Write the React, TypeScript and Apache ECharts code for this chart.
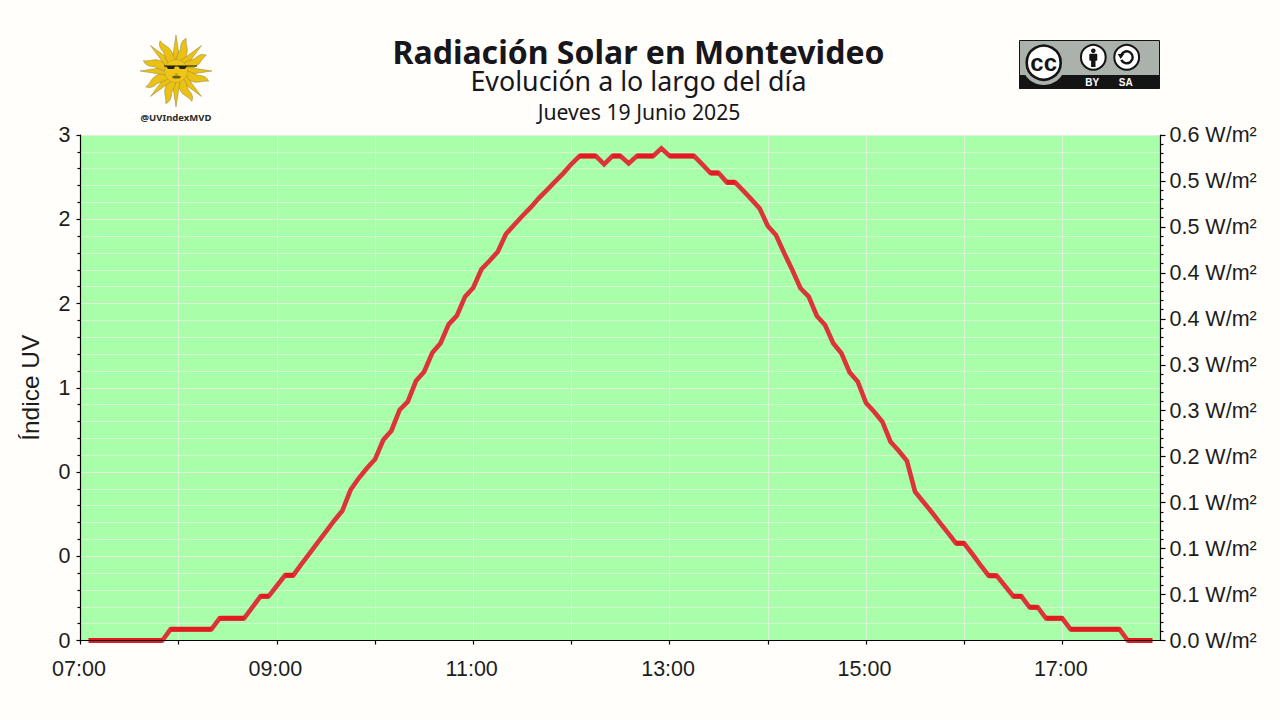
import React, { useEffect, useRef } from "react";
import * as echarts from "echarts";

const titleText = "Radiación Solar en Montevideo";
const subtitleText = "Evolución a lo largo del día";
const dateText = "Jueves 19 Junio 2025";
const handleText = "@UVIndexMVD";
const leftAxisName = "Índice UV";

const leftTickLabels = ["0", "0", "0", "1", "2", "2", "3"];
const rightTickLabels = ["0.0", "0.1", "0.1", "0.1", "0.2", "0.3", "0.3", "0.4", "0.4", "0.5", "0.5", "0.6"];
const hourLabels = ["07:00", "", "09:00", "", "11:00", "", "13:00", "", "15:00", "", "17:00", ""];

const times = [
  "07:05","07:10","07:15","07:20","07:25","07:30","07:35","07:40","07:45","07:50","07:55",
  "08:00","08:05","08:10","08:15","08:20","08:25","08:30","08:35","08:40","08:45","08:50","08:55",
  "09:00","09:05","09:10","09:15","09:20","09:25","09:30","09:35","09:40","09:45","09:50","09:55",
  "10:00","10:05","10:10","10:15","10:20","10:25","10:30","10:35","10:40","10:45","10:50","10:55",
  "11:00","11:05","11:10","11:15","11:20","11:25","11:30","11:35","11:40","11:45","11:50","11:55",
  "12:00","12:05","12:10","12:15","12:20","12:25","12:30","12:35","12:40","12:45","12:50","12:55",
  "13:00","13:05","13:10","13:15","13:20","13:25","13:30","13:35","13:40","13:45","13:50","13:55",
  "14:00","14:05","14:10","14:15","14:20","14:25","14:30","14:35","14:40","14:45","14:50","14:55",
  "15:00","15:05","15:10","15:15","15:20","15:25","15:30","15:35","15:40","15:45","15:50","15:55",
  "16:00","16:05","16:10","16:15","16:20","16:25","16:30","16:35","16:40","16:45","16:50","16:55",
  "17:00","17:05","17:10","17:15","17:20","17:25","17:30","17:35","17:40","17:45","17:50","17:55",
];

const irradiance = [
  0,0,0,0,0,0,0,0,0,0,.0122,
  .0122,.0122,.0122,.0122,.0122,.0242,.0242,.0242,.0242,.0361,.0481,.0481,
  .0596,.0709,.0709,.0832,.0949,.1068,.1184,.1303,.1412,.1637,.1765,.1874,
  .1971,.2181,.2283,.2508,.2598,.2823,.2925,.3131,.3234,.344,.3534,.3741,
  .3838,.4039,.4132,.423,.4423,.4521,.4619,.4709,.4811,.4901,.4992,.5083,
  .5184,.5271,.5271,.5271,.5181,.5271,.5271,.519,.5271,.5271,.5271,.5355,
  .5271,.5271,.5271,.5271,.5181,.5086,.5086,.4985,.4985,.4894,.48,.4702,
  .451,.4412,.4216,.4031,.3832,.3741,.3531,.3433,.3234,.3125,.2918,.2816,
  .2587,.2489,.2381,.2163,.2065,.1956,.1619,.151,.1401,.1286,.1173,.1058,
  .1058,.0941,.0821,.0705,.0705,.0593,.0481,.0481,.0361,.0361,.0242,.0242,
  .0242,.0122,.0122,.0122,.0122,.0122,.0122,.0122,0,0,0,0,
];

const toMinutes = (t: string) => {
  const [h, m] = t.split(":").map(Number);
  return (h - 7) * 60 + m;
};

const linePoints = times.map((t, i) => [toMinutes(t), irradiance[i]]);

// Level stretches look more saturated than the slopes in the reference.
const flatStretches: any[] = [];
linePoints.forEach((p, i) => {
  const next = linePoints[i + 1];
  if (next && next[1] === p[1]) flatStretches.push(p, next, [p[0], "-"]);
});

echarts.graphic.registerShape("sunRay", echarts.graphic.extendPath(
  "M-4,-10 L0,-36 L4,-10 Z", {}) as any);
echarts.graphic.registerShape("sunWave", echarts.graphic.extendPath(
  "M-4,-10 C-6,-17 -3,-20 -5,-24 C-6,-28 -6,-31 -3,-34 C-2,-29 2,-26 3,-22 C4,-18 3.5,-14 4,-10 Z", {}) as any);

const SUN_X = 176;
const SUN_Y = 71;
const rayStyle = { fill: "#ecc115", stroke: "#8f8540", lineWidth: 0.5 };

function sunGraphic() {
  const rays: any[] = [];
  for (let i = 0; i < 16; i++) {
    rays.push({
      type: i % 2 === 0 ? "sunRay" : "sunWave",
      x: 0, y: 0,
      rotation: (-i * Math.PI) / 8,
      style: rayStyle,
    });
  }
  return {
    type: "group", x: SUN_X, y: SUN_Y,
    children: [
      ...rays,
      { type: "circle", shape: { cx: 0, cy: 0, r: 11.5 }, style: { fill: "#efc516", stroke: "#a89a40", lineWidth: 0.5 } },
      { type: "line", shape: { x1: -12, y1: -5, x2: 21, y2: -5 }, style: { stroke: "#111", lineWidth: 1 } },
      { type: "polygon", shape: { points: [[-10, -5], [-1, -5], [-2, -2], [-8, -2]] }, style: { fill: "#222" } },
      { type: "polygon", shape: { points: [[2, -5], [11, -5], [9, -2], [4, -2]] }, style: { fill: "#222" } },
      { type: "ellipse", shape: { cx: 0.5, cy: 6, rx: 4.5, ry: 1.6 }, style: { fill: "#6b5a18" } },
      { type: "line", shape: { x1: -1, y1: 3, x2: 2, y2: 3 }, style: { stroke: "#8a7420", lineWidth: 0.7 } },
    ],
  };
}

function ccBadge() {
  const white = "#ffffff";
  const black = "#141414";
  const grey = "#aab2ab";
  return {
    type: "group", x: 0, y: 0,
    children: [
      { type: "rect", shape: { x: 1019.5, y: 40.5, width: 140, height: 48 }, style: { fill: grey, stroke: black, lineWidth: 1 } },
      { type: "rect", shape: { x: 1019.5, y: 75, width: 140, height: 14 }, style: { fill: black } },
      { type: "circle", shape: { cx: 1043.7, cy: 63, r: 22 }, style: { fill: grey } },
      { type: "circle", shape: { cx: 1043.7, cy: 62.7, r: 17 }, style: { fill: white, stroke: black, lineWidth: 2.6 } },
      { type: "text", x: 1043.7, y: 62, style: { text: "cc", font: "bold 24px 'Liberation Sans'", fill: black, align: "center", verticalAlign: "middle" } },
      { type: "circle", shape: { cx: 1093.3, cy: 57.3, r: 12.4 }, style: { fill: white, stroke: black, lineWidth: 2 } },
      { type: "circle", shape: { cx: 1093.3, cy: 50.8, r: 2.3 }, style: { fill: black } },
      { type: "rect", shape: { x: 1089.3, y: 53.8, width: 8, height: 7, r: 1 }, style: { fill: black } },
      { type: "rect", shape: { x: 1091.1, y: 59, width: 4.4, height: 8 }, style: { fill: black } },
      { type: "circle", shape: { cx: 1126.7, cy: 57.3, r: 12.4 }, style: { fill: white, stroke: black, lineWidth: 2 } },
      { type: "arc", shape: { cx: 1126.7, cy: 57.3, r: 6, startAngle: -2.7, endAngle: 2.7 }, style: { stroke: black, lineWidth: 2.4, fill: "none" } },
      { type: "polygon", shape: { points: [[1117.7, 54], [1124.2, 54], [1120.7, 59]] }, style: { fill: black } },
      { type: "text", x: 1092.3, y: 82.5, style: { text: "BY", font: "bold 10px 'Liberation Sans'", fill: white, align: "center", verticalAlign: "middle" } },
      { type: "text", x: 1125.7, y: 82.5, style: { text: "SA", font: "bold 10px 'Liberation Sans'", fill: white, align: "center", verticalAlign: "middle" } },
    ],
  };
}

export default function App() {
  const ref = useRef<HTMLDivElement>(null);

  useEffect(() => {
    const chart = echarts.init(ref.current!, undefined, { renderer: "svg" });
    const tickFont = { fontFamily: "'Liberation Sans', Arial, sans-serif", fontSize: 21.5, color: "#1c1c1c" };
    const axisStroke = { color: "#000", width: 1.2 };
    chart.setOption({
      animation: false,
      backgroundColor: "#fffefa",
      grid: {
        left: 80.5, right: 119.5, top: 135, bottom: 79.5,
        show: true, backgroundColor: "#a9ffa9", borderWidth: 0,
      },
      xAxis: [
        {
          type: "value", min: 0, max: 660, interval: 60, position: "bottom", z: 5,
          axisLine: { onZero: false, lineStyle: axisStroke },
          axisTick: { length: 4, lineStyle: axisStroke },
          splitLine: { show: false },
          axisLabel: {
            ...tickFont, margin: 17, showMaxLabel: false, padding: [0, 3, 0, 0],
            formatter: (v: number) => hourLabels[Math.round(v / 60)] ?? "",
          },
        },
        {
          type: "value", min: 0, max: 660, interval: 60, position: "bottom",
          axisLine: { show: false, onZero: false }, axisTick: { show: false }, axisLabel: { show: false },
          splitLine: { show: true, lineStyle: { color: "#d9f2d6", width: 1 } },
        },
      ],
      yAxis: [
        {
          type: "value", min: 0, max: 3, interval: 0.5, position: "left",
          name: leftAxisName, nameLocation: "middle", nameGap: 38, nameRotate: 90,
          nameTextStyle: { fontFamily: "'Liberation Sans', Arial, sans-serif", fontSize: 24.5, color: "#1c1c1c" },
          axisLine: { show: true, onZero: false, lineStyle: axisStroke },
          axisTick: { show: true, length: 4, lineStyle: axisStroke },
          minorTick: { show: true, splitNumber: 5, length: 3, lineStyle: axisStroke },
          splitLine: { show: true, lineStyle: { color: "#e3eedd", width: 1.2 } },
          minorSplitLine: { show: true, lineStyle: { color: "#d4f6d0", width: 1 } },
          axisLabel: {
            ...tickFont, margin: 10, padding: [0, 0, 2, 0],
            formatter: (v: number) => leftTickLabels[Math.round(v / 0.5)] ?? "",
          },
        },
        {
          type: "value", min: 0, max: 0.55, interval: 0.05, position: "right",
          axisLine: { show: true, onZero: false, lineStyle: axisStroke },
          axisTick: { show: true, length: 5, lineStyle: axisStroke },
          minorTick: { show: true, splitNumber: 5, length: 3, lineStyle: axisStroke },
          splitLine: { show: false },
          axisLabel: {
            ...tickFont, margin: 9, padding: [0, 0, 3, 0],
            formatter: (v: number) => `${rightTickLabels[Math.round(v / 0.05)] ?? ""} W/m²`,
          },
        },
      ],
      series: [
        {
          type: "line", xAxisIndex: 0, yAxisIndex: 1, clip: false, z: 3,
          showSymbol: false, symbol: "none",
          lineStyle: { color: "#dc3438", width: 4.6, join: "miter" },
          data: linePoints,
        },
        {
          type: "line", xAxisIndex: 0, yAxisIndex: 1, clip: false, z: 3,
          showSymbol: false, symbol: "none", connectNulls: false,
          lineStyle: { color: "#e41a22", width: 5, join: "miter" },
          data: flatStretches,
        },
      ],
      graphic: [
        { type: "text", x: 638.5, y: 51.5, style: { text: titleText, font: "bold 32px 'Noto Sans'", fill: "#16161c", align: "center", verticalAlign: "middle" } },
        { type: "text", x: 638.5, y: 80, style: { text: subtitleText, font: "26.8px 'Noto Sans'", fill: "#16161c", align: "center", verticalAlign: "middle" } },
        { type: "text", x: 639, y: 111, style: { text: dateText, font: "21.2px 'Noto Sans'", fill: "#16161c", align: "center", verticalAlign: "middle" } },
        { type: "text", x: 176, y: 117.5, style: { text: handleText, font: "bold 9.5px 'Noto Sans'", fill: "#2a2a2a", align: "center", verticalAlign: "middle" } },
        sunGraphic(),
        ccBadge(),
      ],
    });
    return () => chart.dispose();
  }, []);

  return <div ref={ref} style={{ position: "absolute", left: 0, top: 0, width: 1280, height: 720 }} />;
}
